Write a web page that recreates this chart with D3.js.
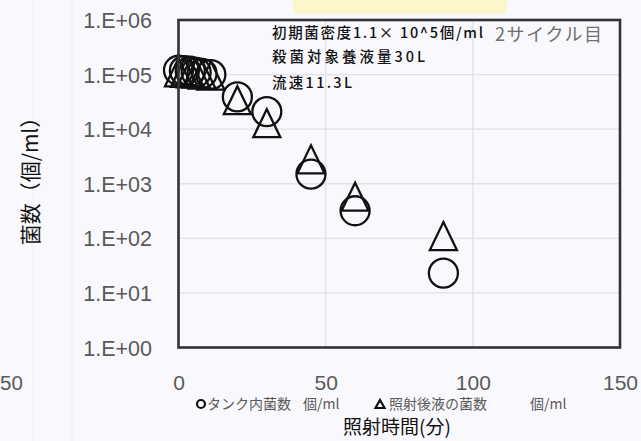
<!DOCTYPE html>
<html>
<head>
<meta charset="utf-8">
<script src="https://cdn.jsdelivr.net/npm/d3@7"></script>
<style>
  html, body { margin: 0; padding: 0; background: #f9f8fc; }
  svg { display: block; }
</style>
</head>
<body>
<svg id="chart" width="641" height="441"></svg>
<script>
// Irradiation time (minutes)
const times = [0, 2, 4, 6, 8, 11, 20, 30, 45, 60, 90];
// Bacteria count in the tank (cells/ml)
const tankCounts = [120000, 118000, 115000, 110000, 105000, 100000, 39000, 21000, 1500, 320, 23];
// Bacteria count in the liquid after irradiation (cells/ml)
const afterCounts = [110000, 108000, 105000, 104000, 100000, 96000, 34000, 12900, 2800, 580, 110];

const xTicks = [0, 50, 100, 150];
const yTicks = [1, 10, 100, 1000, 10000, 100000, 1000000];
const yTickLabels = ["1.E+00", "1.E+01", "1.E+02", "1.E+03", "1.E+04", "1.E+05", "1.E+06"];

const seriesNames = ["タンク内菌数　個/ml", "照射後液の菌数　個/ml"];
const noteLines = ["初期菌密度1.1× 10^5個/ml", "殺菌対象養液量30L", "流速11.3L"];
const cycleLabel = "2サイクル目";
const xTitle = "照射時間(分)";
const yTitle = "菌数（個/ml）";

const svg = d3.select("#chart");
const plot = { left: 178.5, top: 20, right: 620, bottom: 347.5 };

const x = d3.scaleLinear().domain([0, 150]).range([plot.left, plot.right]);
const y = d3.scaleLog().domain([1, 1000000]).range([plot.bottom, plot.top]);

const labelFont = "'Liberation Sans', 'Noto Sans', sans-serif";
const cjkFont = "'Noto Sans CJK JP', 'Noto Sans', sans-serif";

// faint strip edges on the far left
[33, 72].forEach(px => {
  svg.append("line").attr("x1", px).attr("x2", px).attr("y1", 0).attr("y2", 441)
    .attr("stroke", "#efeef3").attr("stroke-width", 1);
});

// leftover tick label at the left edge
svg.append("text").attr("x", 0).attr("y", 383).attr("dy", "0.35em")
  .attr("font-family", labelFont).attr("font-size", 20.5).attr("fill", "#595959").text("50");

// pale yellow strip at the top
svg.append("rect").attr("x", 293).attr("y", 0).attr("width", 214).attr("height", 14)
  .attr("fill", "#fcf7c8");

// gridlines
const grid = svg.append("g");
grid.selectAll("line.h").data(yTicks).join("line").attr("class", "h")
  .attr("x1", plot.left).attr("x2", plot.right)
  .attr("y1", d => y(d)).attr("y2", d => y(d))
  .attr("stroke", "#e2e1e6").attr("stroke-width", 1.3);
grid.selectAll("line.v").data(xTicks).join("line").attr("class", "v")
  .attr("x1", d => x(d)).attr("x2", d => x(d))
  .attr("y1", plot.top).attr("y2", plot.bottom)
  .attr("stroke", "#e2e1e6").attr("stroke-width", 1.3);

// y axis labels
const yAxis = d3.axisLeft(y).tickValues(yTicks)
  .tickFormat((d, i) => yTickLabels[i]).tickSize(0).tickPadding(0);
const yg = svg.append("g").attr("transform", `translate(152,0)`).call(yAxis);
yg.select(".domain").remove();
yg.selectAll("text").attr("font-family", labelFont).attr("font-size", 21.5)
  .attr("fill", "#595959").attr("dy", "0.35em");

// x axis labels
const xAxis = d3.axisBottom(x).tickValues(xTicks).tickSize(0).tickPadding(0);
const xg = svg.append("g").attr("transform", `translate(0,383)`).call(xAxis);
xg.select(".domain").remove();
xg.selectAll("text").attr("font-family", labelFont).attr("font-size", 21)
  .attr("fill", "#595959").attr("dy", "0.35em");

// annotation text box
const notes = svg.append("g");
const noteY = [33, 57, 83];
const noteLen = [211, 153, 80];
notes.selectAll("text").data(noteLines).join("text")
  .attr("x", 272).attr("y", (d, i) => noteY[i]).attr("dy", "0.35em")
  .attr("font-family", cjkFont).attr("font-size", 14.5).attr("font-weight", 500)
  .attr("textLength", (d, i) => noteLen[i]).attr("lengthAdjust", "spacing")
  .attr("fill", "#111").text(d => d);

svg.append("text").attr("x", 495).attr("y", 35).attr("dy", "0.35em")
  .attr("font-family", cjkFont).attr("font-size", 18).attr("fill", "#6f6f6f")
  .attr("textLength", 107).attr("lengthAdjust", "spacing")
  .text(cycleLabel);

// markers
const markStroke = "#111";
const markWidth = 2.3;

const pts = svg.append("g");
pts.selectAll("circle").data(times.map((t, i) => [t, tankCounts[i]])).join("circle")
  .attr("cx", d => x(d[0])).attr("cy", d => y(d[1])).attr("r", 14.5)
  .attr("fill", "none").attr("stroke", markStroke).attr("stroke-width", markWidth);

// triangle centred on its bounding box
function triPath(cx, cy, w, h) {
  return `M${cx},${cy - h / 2}L${cx + w / 2},${cy + h / 2}L${cx - w / 2},${cy + h / 2}Z`;
}
pts.selectAll("path").data(times.map((t, i) => [t, afterCounts[i]])).join("path")
  .attr("d", d => triPath(x(d[0]), y(d[1]), 27, 28))
  .attr("fill", "none").attr("stroke", markStroke).attr("stroke-width", markWidth)
  .attr("stroke-linejoin", "miter");

// plot frame
svg.append("rect").attr("x", plot.left).attr("y", plot.top)
  .attr("width", plot.right - plot.left).attr("height", plot.bottom - plot.top)
  .attr("fill", "none").attr("stroke", "#333").attr("stroke-width", 2.6);

// legend: marker, series name, unit
const legendItems = [
  { shape: "circle", mx: 201, nameX: 207, unitX: 303 },
  { shape: "triangle", mx: 380, nameX: 389, unitX: 530 }
];
const lg = svg.append("g").attr("transform", "translate(0,404)");
legendItems.forEach((item, i) => {
  const [name, unit] = seriesNames[i].split("　");
  if (item.shape === "circle") {
    lg.append("circle").attr("cx", item.mx).attr("cy", 0).attr("r", 4)
      .attr("fill", "none").attr("stroke", "#111").attr("stroke-width", 2.2);
  } else {
    lg.append("path").attr("d", triPath(item.mx, 0, 9, 8))
      .attr("fill", "none").attr("stroke", "#111").attr("stroke-width", 2.2);
  }
  const t = lg.append("text").attr("y", 0).attr("dy", "0.35em")
    .attr("font-family", cjkFont).attr("font-size", 14).attr("fill", "#595959");
  t.append("tspan").attr("x", item.nameX).text(name);
  t.append("tspan").attr("x", item.unitX).text(unit);
});

// axis titles
svg.append("text").attr("x", 397).attr("y", 427).attr("dy", "0.35em")
  .attr("text-anchor", "middle").attr("font-family", cjkFont).attr("font-size", 19)
  .attr("fill", "#111").text(xTitle);

svg.append("text").attr("transform", "translate(31,176) rotate(-90)").attr("dy", "0.35em")
  .attr("text-anchor", "middle").attr("font-family", cjkFont).attr("font-size", 21)
  .attr("fill", "#111").text(yTitle);
</script>
</body>
</html>
